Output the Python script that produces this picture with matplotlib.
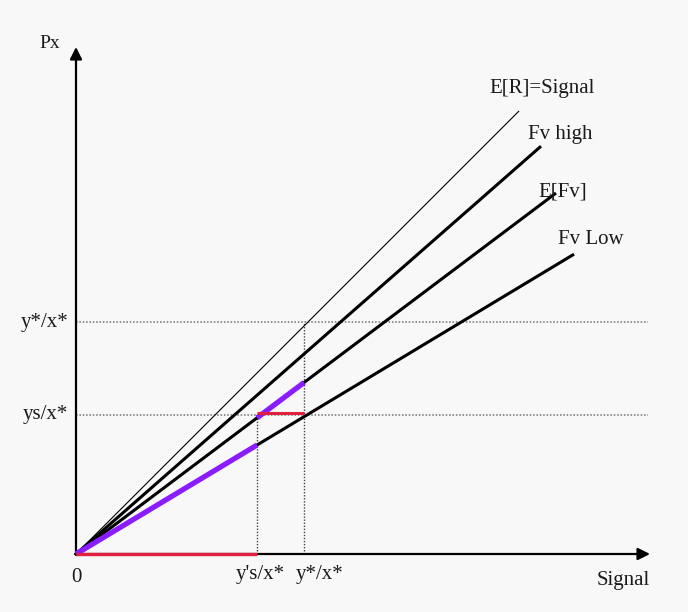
import matplotlib.pyplot as plt
import numpy as np

# positions are measured from the origin of the diagram (pixel-like units)
line_names = ['E[R]=Signal', 'Fv high', 'E[Fv]', 'Fv Low']
line_slopes = [1.0, 0.877, 0.752, 0.602]
line_end_x = [443, 465, 480, 498]
line_widths = [0.8, 2.2, 2.2, 2.2]
label_pos = [(466, 466), (484, 420), (487, 362), (515, 314)]

x_marks = [181, 228]
x_mark_labels = ["y's/x*", "y*/x*"]
y_levels = [232, 139]
y_level_labels = ["y*/x*", "ys/x*"]

x_axis_end = 572
y_axis_end = 507

plt.rcParams['font.family'] = ['Liberation Serif', 'DejaVu Serif']

fig = plt.figure(figsize=(6.88, 6.12), dpi=100)
fig.patch.set_facecolor('#f8f8f8')
ax = fig.add_axes([0, 0, 1, 1])
ax.set_xlim(-76, 612)
ax.set_ylim(-58, 554)
ax.axis('off')

fs = 15
txt = '#1a1a1a'

# dotted guides
for lev in y_levels:
    ax.plot([0, x_axis_end], [lev, lev], color='#707070', lw=1.1,
            ls=(0, (1, 1.2)), zorder=1)
ax.plot([x_marks[0]] * 2, [0, y_levels[1]], color='#444444', lw=1.0,
        ls=(0, (1, 1.2)), zorder=1)
ax.plot([x_marks[1]] * 2, [0, y_levels[0]], color='#444444', lw=1.0,
        ls=(0, (1, 1.2)), zorder=1)

# axes with arrows
ax.annotate('', xy=(x_axis_end + 2, 0), xytext=(-1, 0),
            arrowprops=dict(arrowstyle='-|>', color='black', lw=1.6,
                            mutation_scale=18, shrinkA=0, shrinkB=0), zorder=3)
ax.annotate('', xy=(0, y_axis_end), xytext=(0, -1),
            arrowprops=dict(arrowstyle='-|>', color='black', lw=1.6,
                            mutation_scale=18, shrinkA=0, shrinkB=0), zorder=3)

# rays from origin
for name, k, xe, w, (tx, ty) in zip(line_names, line_slopes, line_end_x,
                                     line_widths, label_pos):
    xs = np.array([0, xe])
    ax.plot(xs, k * xs, color='black', lw=w, solid_capstyle='butt', zorder=2)
    ax.text(tx, ty, name, fontsize=fs, ha='center', va='center', color=txt)

# highlighted path
purple = '#8a1cff'
ax.plot([0, x_marks[0]], [0, line_slopes[3] * x_marks[0]], color=purple,
        lw=3.8, solid_capstyle='butt', zorder=4)
ax.plot([x_marks[0], x_marks[1]],
        [line_slopes[2] * x_marks[0], line_slopes[2] * x_marks[1]],
        color=purple, lw=3.8, solid_capstyle='butt', zorder=4)

red = '#e0203c'
ax.plot([0, x_marks[0]], [0, 0], color=red, lw=2.4, solid_capstyle='butt', zorder=5)
ax.plot([x_marks[0], x_marks[1]], [y_levels[1] + 2, y_levels[1] + 2], color=red,
        lw=2.2, solid_capstyle='butt', zorder=5)

# labels
ax.text(-26, 511, 'Px', fontsize=fs - 1, ha='center', va='center', color=txt)
ax.text(0, -24, '0', fontsize=fs, ha='center', va='center', color=txt)
ax.text(x_marks[0] + 3, -20, x_mark_labels[0], fontsize=fs, ha='center',
        va='center', color=txt)
ax.text(x_marks[1] - 8, -20, x_mark_labels[1], fontsize=fs, ha='left',
        va='center', color=txt)
ax.text(574, -26, 'Signal', fontsize=fs, ha='right', va='center', color=txt)
for lev, lab in zip(y_levels, y_level_labels):
    ax.text(-8, lev, lab, fontsize=fs, ha='right', va='center', color=txt)

fig.savefig('out.png', dpi=100, facecolor=fig.get_facecolor())
